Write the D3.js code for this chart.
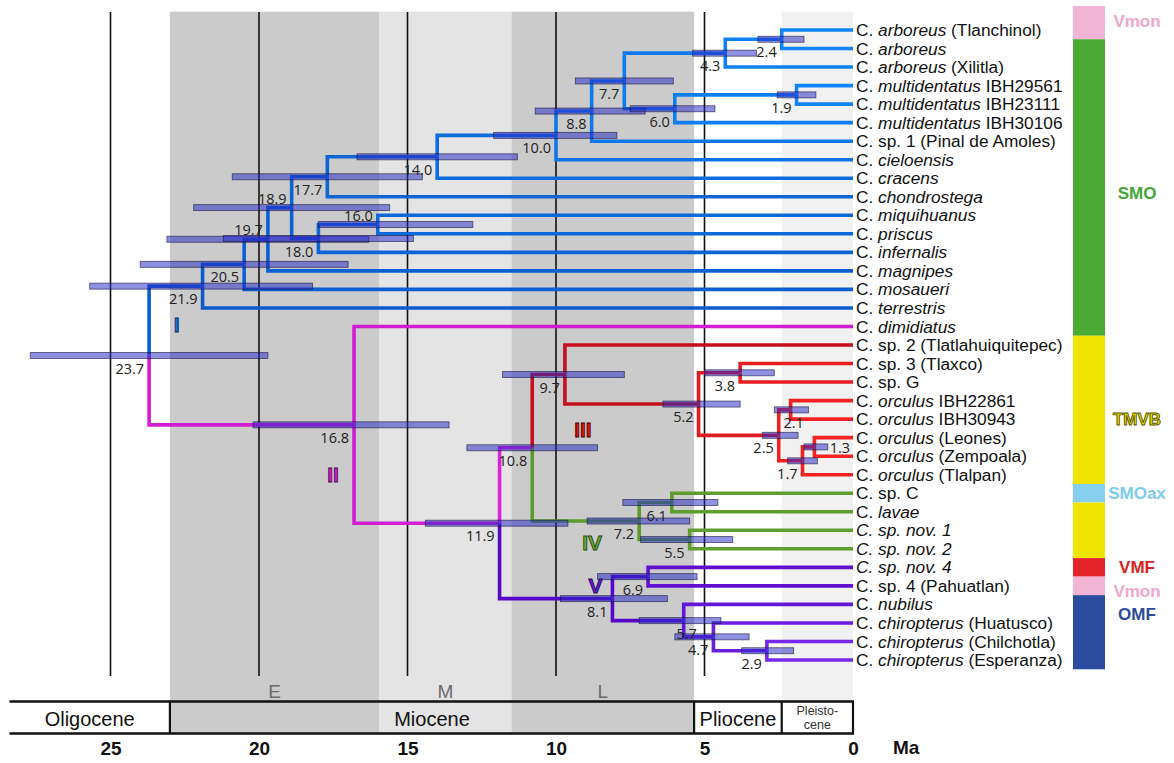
<!DOCTYPE html>
<html><head><meta charset="utf-8">
<script src="https://cdn.jsdelivr.net/npm/d3@7"></script>
<style>body{margin:0;background:#fff;} svg{display:block;}</style>
</head><body>
<svg id="chart" width="1174" height="763"></svg>
<script>
// ================= DATA =================
// tip names (top to bottom); *...* = italic
const tipLabels = [
  "C. *arboreus* (Tlanchinol)", "C. *arboreus*", "C. *arboreus* (Xilitla)",
  "C. *multidentatus* IBH29561", "C. *multidentatus* IBH23111", "C. *multidentatus* IBH30106",
  "C. sp. 1 (Pinal de Amoles)", "C. *cieloensis*", "C. *cracens*", "C. *chondrostega*",
  "C. *miquihuanus*", "C. *priscus*", "C. *infernalis*", "C. *magnipes*", "C. *mosaueri*",
  "C. *terrestris*", "C. *dimidiatus*", "C. sp. 2 (Tlatlahuiquitepec)", "C. sp. 3 (Tlaxco)",
  "C. sp. G", "C. *orculus* IBH22861", "C. *orculus* IBH30943", "C. *orculus* (Leones)",
  "C. *orculus* (Zempoala)", "C. *orculus* (Tlalpan)", "C. sp. C", "C. *lavae*",
  "*C. sp. nov. 1*", "*C. sp. nov. 2*", "*C. sp. nov. 4*", "C. sp. 4 (Pahuatlan)",
  "C. *nubilus*", "C. *chiropterus* (Huatusco)", "C. *chiropterus* (Chilchotla)",
  "C. *chiropterus* (Esperanza)"
];

// internal nodes: age (Ma), 95% HPD interval, children (tip index or node id), top to bottom
const nodes = [
  {id:"n23.7", age:23.7, hpd:[19.7,27.7], kids:["n21.9","n16.8"]},
  {id:"n21.9", age:21.9, hpd:[18.2,25.7], kids:["n20.5",15]},
  {id:"n20.5", age:20.5, hpd:[17.0,24.0], kids:["n19.7",14]},
  {id:"n19.7", age:19.7, hpd:[16.3,23.1], kids:["n18.9",13]},
  {id:"n18.9", age:18.9, hpd:[15.6,22.2], kids:["n17.7","n18.0"]},
  {id:"n17.7", age:17.7, hpd:[14.5,20.9], kids:["n14.0",9]},
  {id:"n18.0", age:18.0, hpd:[14.8,21.2], kids:["n16.0",12]},
  {id:"n16.0", age:16.0, hpd:[12.8,18.0], kids:[10,11]},
  {id:"n14.0", age:14.0, hpd:[11.3,16.7], kids:["n10.0",8]},
  {id:"n10.0", age:10.0, hpd:[7.95,12.1], kids:["n8.8",7]},
  {id:"n8.8",  age:8.8,  hpd:[7.0,10.7],  kids:["n7.7",6]},
  {id:"n7.7",  age:7.7,  hpd:[6.05,9.35], kids:["n4.3","n6.0"]},
  {id:"n4.3",  age:4.3,  hpd:[3.25,5.4],  kids:["n2.4",2]},
  {id:"n2.4",  age:2.4,  hpd:[1.65,3.2],  kids:[0,1]},
  {id:"n6.0",  age:6.0,  hpd:[4.65,7.5],  kids:["n1.9",5]},
  {id:"n1.9",  age:1.9,  hpd:[1.25,2.55], kids:[3,4]},
  {id:"n16.8", age:16.8, hpd:[13.6,20.2], kids:[16,"n11.9"]},
  {id:"n11.9", age:11.9, hpd:[9.6,14.4],  kids:["n10.8","n8.1"]},
  {id:"n10.8", age:10.8, hpd:[8.6,13.0],  kids:["n9.7","n7.2"]},
  {id:"n9.7",  age:9.7,  hpd:[7.7,11.8],  kids:[17,"n5.2"]},
  {id:"n5.2",  age:5.2,  hpd:[3.8,6.4],   kids:["n3.8","n2.5"]},
  {id:"n3.8",  age:3.8,  hpd:[2.65,5.0],  kids:[18,19]},
  {id:"n2.5",  age:2.5,  hpd:[1.85,3.05], kids:["n2.1","n1.7"]},
  {id:"n2.1",  age:2.1,  hpd:[1.5,2.65],  kids:[20,21]},
  {id:"n1.7",  age:1.7,  hpd:[1.2,2.2],   kids:["n1.3",24]},
  {id:"n1.3",  age:1.3,  hpd:[0.85,1.65], kids:[22,23]},
  {id:"n7.2",  age:7.2,  hpd:[5.5,8.95],  kids:["n6.1","n5.5"]},
  {id:"n6.1",  age:6.1,  hpd:[4.55,7.75], kids:[25,26]},
  {id:"n5.5",  age:5.5,  hpd:[4.05,7.15], kids:[27,28]},
  {id:"n8.1",  age:8.1,  hpd:[6.25,9.85], kids:["n6.9","n5.7"]},
  {id:"n6.9",  age:6.9,  hpd:[5.25,8.6],  kids:[29,30]},
  {id:"n5.7",  age:5.7,  hpd:[4.45,7.2],  kids:[31,"n4.7"]},
  {id:"n4.7",  age:4.7,  hpd:[3.5,6.0],   kids:[32,"n2.9"]},
  {id:"n2.9",  age:2.9,  hpd:[2.0,3.75],  kids:[33,34]}
];
const rootId = "n23.7";

// clades (crown node)
const clades = [
  {label:"I",   node:"n21.9"},
  {label:"II",  node:"n16.8"},
  {label:"III", node:"n9.7"},
  {label:"IV",  node:"n7.2"},
  {label:"V",   node:"n8.1"}
];

// geological time (Ma)
const epochs = [
  {name:"Oligocene",   start:28.4, end:23.0},
  {name:"Miocene",     start:23.0, end:5.35},
  {name:"Pliocene",    start:5.35, end:2.4},
  {name:"Pleistocene", start:2.4,  end:0}
];
const subEpochs = [
  {name:"E", start:23.0,  end:15.95},
  {name:"M", start:15.95, end:11.5},
  {name:"L", start:11.5,  end:5.35}
];
const tickValues = [25, 20, 15, 10, 5, 0];

// distribution regions by tip ranges
const regions = [
  {name:"Vmon",  from:0,  to:0},
  {name:"SMO",   from:1,  to:16},
  {name:"TMVB",  from:17, to:24},
  {name:"SMOax", from:25, to:25},
  {name:"TMVB",  from:26, to:28},
  {name:"VMF",   from:29, to:29},
  {name:"Vmon",  from:30, to:30},
  {name:"OMF",   from:31, to:34}
];

// ================= STYLE / LAYOUT =================
const cladeColors = {
  I:["#0c5ccc","#0f8aff"], II:["#d21ed2","#f22ef2"], III:["#c4101c","#ff2626"],
  IV:["#5c9a2c","#68ac38"], V:["#5608c6","#8a3cff"]
};
const numeralStyle = {
  I:{fill:"#1a70e0",stroke:"#0a2a60"}, II:{fill:"#d020d0",stroke:"#4a0c4a"},
  III:{fill:"#e01414",stroke:"#4a0000"}, IV:{fill:"#6aaa38",stroke:"#284a10"},
  V:{fill:"#6a18e0",stroke:"#260860"}
};
const numeralOffset = {I:[-26,39], II:[-21,50], III:[18,55], IV:[-47,22], V:[-17,-13]};
const labelPlace = {"n18.9":"above","n19.7":"above","n16.0":"above","n1.3":"right","n2.1":"center","n5.7":"center"};
const regionStyle = {
  Vmon:{fill:"#f3b5d6",text:"#f2a6cd"}, SMO:{fill:"#4aaa34",text:"#45a638"},
  TMVB:{fill:"#f0e400",text:"#e8e000",stroke:"#5a5400"}, SMOax:{fill:"#86cfee",text:"#7ccbee"},
  VMF:{fill:"#e4222a",text:"#e02020"}, OMF:{fill:"#2b4c9c",text:"#2a4a9a"}
};
const regionLabelRow = [-0.5, 8.8, 21, 25, null, 29, 30.3, 31.5];
const shade = {E:"#cbcbcb", M:"#e4e4e4", L:"#cbcbcb", Pleistocene:"#f1f1f1"};
const boxFill = {E:"#cbcbcb", M:"#e4e4e4", L:"#cbcbcb"};

// ================= DRAW =================
const svg = d3.select("#chart");
const x = d3.scaleLinear().domain([0, 25]).range([853, 110.5]);
const y = d3.scaleLinear().domain([0, tipLabels.length - 1]).range([30, 660]);
const half = (y(1) - y(0)) / 2;
const plotTop = 11.7, boxTop = 701.5, boxBottom = 733.5;

// layout
const byId = new Map(nodes.map(d => [d.id, d]));
function pos(k){ if (typeof k === "number") return {x:x(0), y:y(k)}; const n = byId.get(k); return {x:n.x, y:n.y}; }
function layout(id){
  const n = byId.get(id);
  n.kids.forEach(k => { if (typeof k !== "number") layout(k); });
  const ys = n.kids.map(k => pos(k).y);
  n.y = (ys[0] + ys[ys.length-1]) / 2;
  n.x = x(n.age);
}
layout(rootId);

// clade membership
const cladeOf = new Map();
const key = k => typeof k === "number" ? "t" + k : k;
function mark(k, c){ cladeOf.set(key(k), c); if (typeof k !== "number") byId.get(k).kids.forEach(kk => mark(kk, c)); }
clades.forEach(c => mark(c.node, c.label));
const crownAge = {}; clades.forEach(c => crownAge[c.label] = byId.get(c.node).age);
function branchColor(parent, kid){
  const c = cladeOf.get(key(kid));
  const s = Math.max(0, Math.min(1, 1 - parent.age / crownAge[c]));
  return d3.interpolateRgb(cladeColors[c][0], cladeColors[c][1])(s);
}

// background shading
const shadeSpans = subEpochs.concat(epochs.filter(e => shade[e.name]));
svg.append("g").selectAll("rect").data(shadeSpans).join("rect")
  .attr("x", d => x(d.start)).attr("width", d => x(d.end) - x(d.start))
  .attr("y", plotTop).attr("height", boxTop - plotTop)
  .attr("fill", d => shade[d.name]);

// grid lines
svg.append("g").selectAll("line").data(tickValues.filter(t => t > 0)).join("line")
  .attr("x1", d => x(d)).attr("x2", d => x(d)).attr("y1", 12).attr("y2", 676)
  .attr("stroke", "#111").attr("stroke-width", 1.6);

// sub-epoch letters
svg.append("g").selectAll("text").data(subEpochs).join("text")
  .attr("x", d => x((d.start + d.end) / 2)).attr("y", 691).attr("dy", "0.35em")
  .attr("text-anchor", "middle").attr("font-family", "Liberation Sans, Arial, sans-serif")
  .attr("font-size", 19).attr("fill", "#6a6a6a").text(d => d.name);

// branches
const links = [];
nodes.forEach(n => n.kids.forEach(k => links.push({p:n, k:k, c:pos(k)})));
svg.append("g").attr("fill", "none").attr("stroke-width", 3.6).attr("stroke-linejoin", "miter")
  .selectAll("path").data(links).join("path")
  .attr("d", d => `M${d.p.x},${d.p.y}V${d.c.y}H${d.c.x}`)
  .attr("stroke", d => branchColor(d.p, d.k));

// HPD bars
svg.append("g").selectAll("rect").data(nodes).join("rect")
  .attr("x", d => x(d.hpd[1])).attr("width", d => x(d.hpd[0]) - x(d.hpd[1]))
  .attr("y", d => d.y - 3).attr("height", 6)
  .attr("fill", "#2a2ac8").attr("fill-opacity", 0.52)
  .attr("stroke", "#16163c").attr("stroke-opacity", 0.65).attr("stroke-width", 0.9);

// node age labels
svg.append("g").attr("font-family", "Open Sans, Liberation Sans, sans-serif").attr("font-size", 14.5).attr("fill", "#222")
  .selectAll("text").data(nodes).join("text")
  .attr("x", d => { const p = labelPlace[d.id];
    if (p === "right") return x(d.hpd[0]) + 2;
    if (p === "center") return d.x + 3;
    return d.x - 5; })
  .attr("y", d => { const p = labelPlace[d.id];
    if (p === "above") return d.y - 9;
    if (p === "right") return d.y + 1;
    return d.y + 13; })
  .attr("dy", "0.35em")
  .attr("text-anchor", d => { const p = labelPlace[d.id];
    return p === "right" ? "start" : p === "center" ? "middle" : "end"; })
  .text(d => d.age.toFixed(1));

// tip labels
const tipG = svg.append("g").attr("font-family", "Liberation Sans, Arial, sans-serif").attr("font-size", 17.3).attr("fill", "#111");
tipLabels.forEach((name, i) => {
  const t = tipG.append("text").attr("x", x(0) + 3).attr("y", y(i)).attr("dy", "0.35em");
  name.split("*").forEach((part, j) => {
    if (part.length) t.append("tspan").attr("font-style", j % 2 ? "italic" : "normal").text(part);
  });
});

// clade numerals
svg.append("g").attr("font-family", "Liberation Sans Narrow, Liberation Sans, Arial, sans-serif")
  .attr("font-weight", "bold").attr("font-size", 21)
  .selectAll("text").data(clades).join("text")
  .attr("x", d => byId.get(d.node).x + numeralOffset[d.label][0])
  .attr("y", d => byId.get(d.node).y + numeralOffset[d.label][1])
  .attr("dy", "0.35em").attr("text-anchor", "middle")
  .attr("fill", d => numeralStyle[d.label].fill).attr("stroke", d => numeralStyle[d.label].stroke)
  .attr("stroke-width", 0.9)
  .text(d => d.label);

// epoch box
const box = svg.append("g");
box.selectAll("rect.sub").data(subEpochs).join("rect").attr("class", "sub")
  .attr("x", d => x(d.start)).attr("width", d => x(d.end) - x(d.start))
  .attr("y", boxTop).attr("height", boxBottom - boxTop).attr("fill", d => boxFill[d.name]);
box.append("line").attr("x1", x(epochs[0].start)).attr("x2", x(0) + 1).attr("y1", boxTop).attr("y2", boxTop)
  .attr("stroke", "#111").attr("stroke-width", 2.6);
box.append("line").attr("x1", x(epochs[0].start)).attr("x2", x(0) + 1).attr("y1", boxBottom).attr("y2", boxBottom)
  .attr("stroke", "#111").attr("stroke-width", 2.6);
box.selectAll("line.div").data(epochs.slice(1).map(e => e.start).concat([0])).join("line").attr("class", "div")
  .attr("x1", d => x(d)).attr("x2", d => x(d)).attr("y1", boxTop).attr("y2", boxBottom)
  .attr("stroke", "#111").attr("stroke-width", 2.2);
box.selectAll("text.ep").data(epochs.filter(e => e.name !== "Pleistocene")).join("text").attr("class", "ep")
  .attr("x", d => x((d.start + d.end) / 2)).attr("y", (boxTop + boxBottom) / 2 + 1).attr("dy", "0.35em")
  .attr("text-anchor", "middle").attr("font-family", "Liberation Sans, Arial, sans-serif").attr("font-size", 20)
  .attr("fill", "#111").text(d => d.name);
const ple = epochs.find(e => e.name === "Pleistocene");
const pleT = box.append("text").attr("x", x((ple.start + ple.end) / 2)).attr("text-anchor", "middle")
  .attr("font-family", "Liberation Sans, Arial, sans-serif").attr("font-size", 12.5).attr("fill", "#333");
pleT.append("tspan").attr("x", x((ple.start + ple.end) / 2)).attr("y", 715).text("Pleisto-");
pleT.append("tspan").attr("x", x((ple.start + ple.end) / 2)).attr("y", 729).text("cene");

// time axis
const axis = d3.axisBottom(x).tickValues(tickValues).tickSize(0).tickPadding(0).tickFormat(d3.format("d"));
const ax = svg.append("g").attr("transform", "translate(0,741)").call(axis);
ax.select(".domain").remove();
ax.selectAll("text").attr("font-family", "Liberation Sans, Arial, sans-serif").attr("font-size", 19)
  .attr("font-weight", "bold").attr("fill", "#111");
svg.append("text").attr("x", 893).attr("y", 741).attr("dy", "0.71em")
  .attr("font-family", "Liberation Sans, Arial, sans-serif").attr("font-size", 19).attr("font-weight", "bold")
  .attr("fill", "#111").text("Ma");

// distribution bar
const rb = svg.append("g");
const barX = 1073, barW = 32, barTop = 6;
rb.selectAll("rect").data(regions).join("rect")
  .attr("x", barX).attr("width", barW)
  .attr("y", (d, i) => i === 0 ? barTop : y(d.from) - half)
  .attr("height", (d, i) => (y(d.to) + half) - (i === 0 ? barTop : y(d.from) - half))
  .attr("fill", d => regionStyle[d.name].fill);
rb.selectAll("text").data(regions.map((d, i) => ({...d, row: regionLabelRow[i]})).filter(d => d.row !== null))
  .join("text")
  .attr("x", 1137).attr("y", d => y(d.row)).attr("dy", "0.35em").attr("text-anchor", "middle")
  .attr("font-family", "Liberation Sans, Arial, sans-serif").attr("font-size", 17).attr("font-weight", "bold")
  .attr("fill", d => regionStyle[d.name].text)
  .attr("stroke", d => regionStyle[d.name].stroke || "none").attr("stroke-width", 0.9)
  .text(d => d.name);
</script>
</body></html>
